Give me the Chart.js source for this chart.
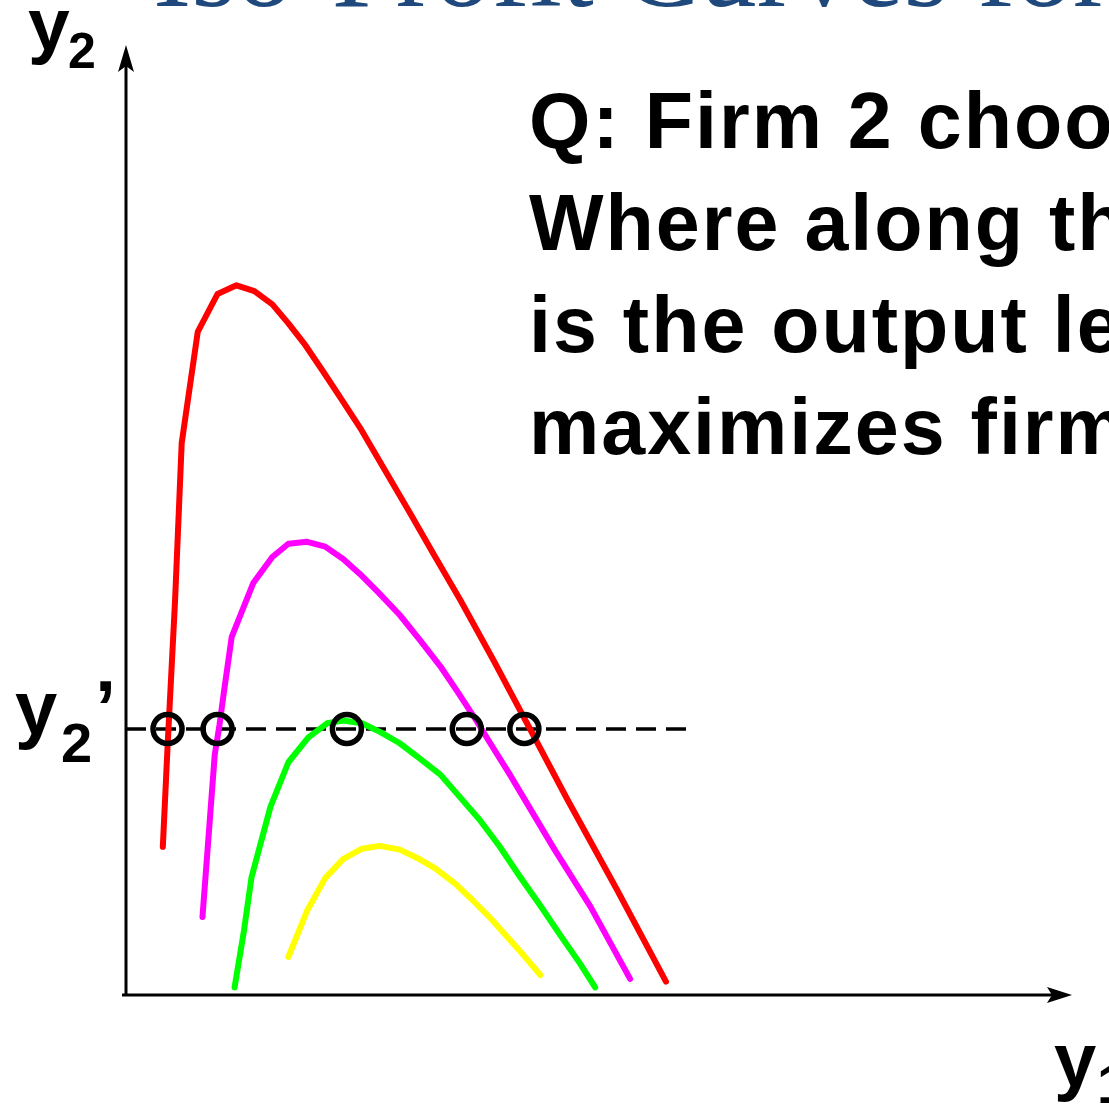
<!DOCTYPE html>
<html>
<head>
<meta charset="utf-8">
<script src="https://cdn.jsdelivr.net/npm/chart.js@4.4.1/dist/chart.umd.min.js"></script>
<style>
    html, body { margin: 0; padding: 0; background: #fff; overflow: hidden; }
    #wrap { position: relative; width: 1109px; height: 1106px; overflow: hidden; }
    #wrap canvas { position: absolute; left: 0; top: 0; }
    .txt {
        position: absolute; white-space: nowrap; line-height: 1;
        font-family: "Liberation Sans", Arial, sans-serif; font-weight: bold; color: #000;
    }
    .title {
        position: absolute; white-space: nowrap; line-height: 1;
        font-family: "Liberation Serif", "Times New Roman", serif; color: #1f497d;
    }
    .question { font-size: 79px; line-height: 102px; letter-spacing: 2px; }
</style>
</head>
<body>
<div id="wrap">
    <canvas id="chart" width="1109" height="1106"></canvas>

    <div class="title" style="left:153px; top:-90px; font-size:115px;">Iso-Profit Curves for Firm 1</div>

    <div class="txt question" style="left:529px; top:70px;">Q: Firm 2 chooses y2’.<br>Where along the line y2’<br>is the output level that<br>maximizes firm 1’s profit?</div>

    <!-- axis labels -->
    <div class="txt" style="left:28px; top:-13px; font-size:75px;">y</div>
    <div class="txt" style="left:68px; top:26px; font-size:50px;">2</div>

    <div class="txt" style="left:15px; top:670px; font-size:76px;">y</div>
    <div class="txt" style="left:61px; top:715px; font-size:56px;">2</div>
    <div class="txt" style="left:95px; top:670px; font-size:76px;">’</div>

    <div class="txt" style="left:1054px; top:1022px; font-size:76px;">y</div>
    <div class="txt" style="left:1097px; top:1056px; font-size:56px;">1</div>
</div>

<script>
// ── Iso-profit curves of firm 1, (y1, y2) pairs ─────────────────────────────

const redCurve = [
    [3.9, 15.6], [4.4, 26.1], [5.2, 41.6], [5.9, 58.1], [7.6, 69.8], [9.7, 73.8],
    [11.7, 74.7], [13.6, 74.1], [15.5, 72.7], [17.2, 70.7], [19.0, 68.4], [20.9, 65.6],
    [22.9, 62.6], [24.8, 59.7], [27.4, 55.3], [30.1, 50.7], [32.7, 46.2], [35.4, 41.6],
    [39.0, 35.1], [42.8, 28.0], [46.8, 20.5], [52.0, 11.1], [57.2, 1.4],
];

const magentaCurve = [
    [8.1, 8.2], [8.8, 17.4], [9.4, 25.3], [9.9, 28.4], [10.4, 32.1], [11.2, 37.7],
    [13.5, 43.4], [15.5, 46.1], [17.2, 47.5], [19.2, 47.7], [21.1, 47.2], [23.0, 45.9],
    [24.8, 44.3], [26.7, 42.4], [29.0, 40.0], [31.1, 37.4], [33.3, 34.6], [35.2, 31.8],
    [37.1, 28.9], [38.9, 26.0], [40.6, 23.3], [42.1, 20.8], [45.4, 15.3], [49.2, 9.3],
    [53.4, 1.7],
];

const greenCurve = [
    [11.5, 0.8], [12.5, 6.8], [13.3, 12.4], [15.3, 19.8], [17.2, 24.5], [19.3, 27.1],
    [21.3, 28.6], [23.0, 28.9], [25.0, 28.6], [26.9, 27.7], [29.0, 26.5], [31.1, 24.9],
    [33.3, 23.2], [35.4, 20.8], [37.5, 18.4], [39.6, 15.6], [41.7, 12.5], [43.9, 9.4],
    [46.0, 6.3], [48.1, 3.3], [49.7, 0.8],
];

const yellowCurve = [
    [17.2, 4.0], [19.2, 8.9], [21.1, 12.3], [23.0, 14.3], [25.0, 15.4], [26.9, 15.7],
    [29.0, 15.3], [30.9, 14.4], [32.8, 13.3], [34.9, 11.7], [36.7, 10.0], [38.6, 8.1],
    [40.3, 6.2], [42.1, 4.2], [43.9, 2.1],
];

// Firm 2's output y2' and where the curves meet it
const y2Prime = 28.0;
const lineStartX = 0;
const lineEndX = 59.7;
const crossingsX = [4.4, 9.7, 23.4, 36.1, 42.2];

// ── Chart setup ─────────────────────────────────────────────────────────────

const toPoints = (arr) => arr.map(([x, y]) => ({ x, y }));

function curve(points, color) {
    return {
        data: toPoints(points),
        showLine: true,
        borderColor: color,
        borderWidth: 6,
        borderCapStyle: 'round',
        borderJoinStyle: 'round',
        pointRadius: 0,
        tension: 0,
        order: 1,
        clip: false,
    };
}

// axes with arrow heads, drawn under the curves
const axesPlugin = {
    id: 'axes',
    beforeDatasetsDraw(chart) {
        const { ctx, scales: { x, y } } = chart;
        const x0 = x.getPixelForValue(0);
        const x1 = x.getPixelForValue(100);
        const y0 = y.getPixelForValue(0);
        const y1 = y.getPixelForValue(100);

        ctx.save();
        ctx.strokeStyle = '#000';
        ctx.fillStyle = '#000';
        ctx.lineWidth = 3;
        ctx.beginPath();
        ctx.moveTo(x0 - 4, y0);
        ctx.lineTo(x1 - 10, y0);
        ctx.moveTo(x0, y0);
        ctx.lineTo(x0, y1 + 10);
        ctx.stroke();

        // x arrow
        ctx.beginPath();
        ctx.moveTo(x1 + 2, y0);
        ctx.lineTo(x1 - 23, y0 - 8);
        ctx.lineTo(x1 - 18, y0);
        ctx.lineTo(x1 - 23, y0 + 8);
        ctx.closePath();
        ctx.fill();

        // y arrow
        ctx.beginPath();
        ctx.moveTo(x0, y1);
        ctx.lineTo(x0 - 8, y1 + 27);
        ctx.lineTo(x0, y1 + 21);
        ctx.lineTo(x0 + 8, y1 + 27);
        ctx.closePath();
        ctx.fill();
        ctx.restore();
    },
};

new Chart(document.getElementById('chart'), {
    type: 'scatter',
    data: {
        datasets: [
            {
                // circles on the y2' line
                data: crossingsX.map(x => ({ x, y: y2Prime })),
                showLine: false,
                pointRadius: 14.5,
                borderWidth: 5.5,
                pointBorderWidth: 5.5,
                borderColor: '#000',
                pointBorderColor: '#000',
                backgroundColor: 'rgba(0,0,0,0)',
                pointBackgroundColor: 'rgba(0,0,0,0)',
                order: 0,
                clip: false,
            },
            curve(redCurve, '#ff0000'),
            curve(magentaCurve, '#ff00ff'),
            curve(greenCurve, '#00ff00'),
            curve(yellowCurve, '#ffff00'),
            {
                // dashed y2' line
                data: [{ x: lineStartX, y: y2Prime }, { x: lineEndX, y: y2Prime }],
                showLine: true,
                borderColor: '#000',
                borderWidth: 3.5,
                borderDash: [20, 10],
                pointRadius: 0,
                order: 2,
                clip: false,
            },
        ],
    },
    options: {
        responsive: false,
        animation: false,
        devicePixelRatio: 1,
        layout: { padding: { left: 126, right: 39, top: 45, bottom: 111 } },
        plugins: {
            legend: { display: false },
            tooltip: { enabled: false },
        },
        scales: {
            x: { type: 'linear', min: 0, max: 100, display: false },
            y: { type: 'linear', min: 0, max: 100, display: false },
        },
    },
    plugins: [axesPlugin],
});
</script>
</body>
</html>
